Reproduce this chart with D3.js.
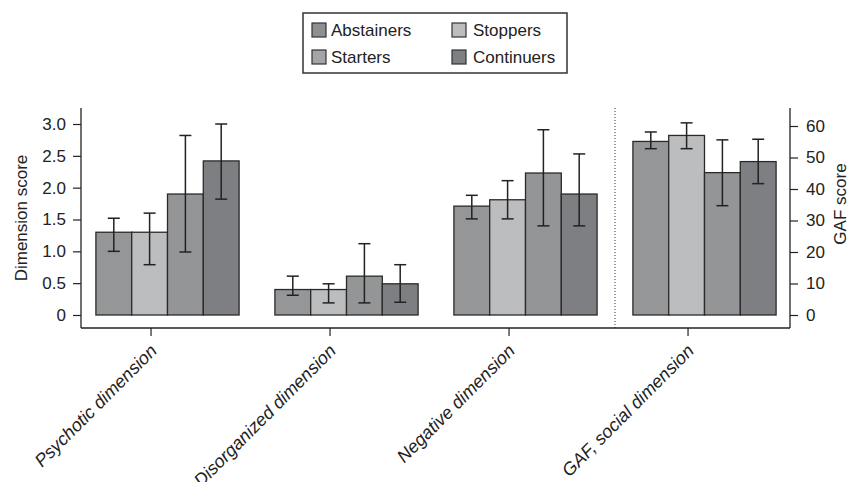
<!DOCTYPE html>
<html><head><meta charset="utf-8">
<script src="https://cdn.jsdelivr.net/npm/d3@7"></script>
<style>body{margin:0;background:#fff}svg{display:block}text{font-family:"Liberation Sans",Arial,sans-serif;fill:#222}</style>
</head><body><svg id="c" width="849" height="482"></svg>
<script>
const categories = ["Psychotic dimension","Disorganized dimension","Negative dimension","GAF, social dimension"];
const groups = ["Abstainers","Stoppers","Starters","Continuers"];
const colors = ["#959698","#bcbdbf","#949597","#7e7f82"];
// values per category, in group order
const means = [[1.3,1.3,1.9,2.42],[0.4,0.4,0.61,0.49],[1.71,1.81,2.23,1.9],[55.1,57.0,45.2,48.7]];
const errLow = [[1.0,0.79,0.99,1.82],[0.31,0.19,0.19,0.2],[1.51,1.51,1.4,1.4],[52.8,52.8,34.7,41.7]];
const errHigh = [[1.52,1.6,2.82,3.0],[0.61,0.49,1.12,0.79],[1.88,2.11,2.91,2.53],[58.1,61.0,55.6,55.8]];
const leftTicks = [0,0.5,1.0,1.5,2.0,2.5,3.0];
const rightTicks = [0,10,20,30,40,50,60];

const svg = d3.select("#c");
const axL = 81, axR = 790, axB = 328, axT = 108;
const yL = d3.scaleLinear().domain([0,3]).range([315,124]);
const yR = d3.scaleLinear().domain([0,60]).range([315,126]);
const x = d3.scaleBand().domain(categories).range([78,794]).paddingInner(0.2).paddingOuter(0.1);
const xs = d3.scaleBand().domain(groups).range([0,x.bandwidth()]);

// bars
categories.forEach((c,ci)=>{
  const y = ci===3 ? yR : yL;
  const g = svg.append("g").attr("transform",`translate(${x(c)},0)`);
  groups.forEach((gr,gi)=>{
    g.append("rect").attr("x",xs(gr)).attr("y",y(means[ci][gi]))
      .attr("width",xs.bandwidth()).attr("height",y(0)-y(means[ci][gi]))
      .attr("fill",colors[gi]).attr("stroke","#2a2a2a").attr("stroke-width",1.3);
  });
  groups.forEach((gr,gi)=>{
    const cx = xs(gr)+xs.bandwidth()/2;
    const lo = y(errLow[ci][gi]), hi = y(errHigh[ci][gi]);
    g.append("line").attr("x1",cx).attr("x2",cx).attr("y1",lo).attr("y2",hi).attr("stroke","#222").attr("stroke-width",1.5);
    [lo,hi].forEach(v=>g.append("line").attr("x1",cx-6).attr("x2",cx+6).attr("y1",v).attr("y2",v).attr("stroke","#222").attr("stroke-width",1.5));
  });
});

// dotted separator
const sepX = (x(categories[2])+x.bandwidth()+x(categories[3]))/2;
svg.append("line").attr("x1",sepX).attr("x2",sepX).attr("y1",axT).attr("y2",axB)
  .attr("stroke","#333").attr("stroke-width",1).attr("stroke-dasharray","1,2");

// left axis
const gL = svg.append("g").attr("transform",`translate(${axL},0)`)
  .call(d3.axisLeft(yL).tickValues(leftTicks).tickSize(8).tickPadding(7).tickFormat(v=>v===0?"0":d3.format(".1f")(v)));
gL.select(".domain").remove();
gL.append("line").attr("x1",0).attr("x2",0).attr("y1",axT).attr("y2",axB).attr("stroke","#222").attr("stroke-width",1.3);
gL.selectAll(".tick line").attr("stroke","#222").attr("stroke-width",1.2);
gL.selectAll(".tick text").attr("font-size",17).attr("fill","#222").attr("font-family","Liberation Sans, Arial, sans-serif");

// right axis
const gR = svg.append("g").attr("transform",`translate(${axR},0)`)
  .call(d3.axisRight(yR).tickValues(rightTicks).tickSize(8).tickPadding(8));
gR.select(".domain").remove();
gR.append("line").attr("x1",0).attr("x2",0).attr("y1",axT).attr("y2",axB).attr("stroke","#222").attr("stroke-width",1.3);
gR.selectAll(".tick line").attr("stroke","#222").attr("stroke-width",1.2);
gR.selectAll(".tick text").attr("font-size",17).attr("fill","#222").attr("font-family","Liberation Sans, Arial, sans-serif");

// bottom axis
svg.append("line").attr("x1",axL).attr("x2",axR).attr("y1",axB).attr("y2",axB).attr("stroke","#222").attr("stroke-width",1.3);
categories.forEach(c=>{
  const tx = x(c)+x.bandwidth()*0.385;
  svg.append("line").attr("x1",tx).attr("x2",tx).attr("y1",axB).attr("y2",axB+8).attr("stroke","#222").attr("stroke-width",1.2);
  svg.append("text").attr("transform",`translate(${tx+7},${axB+24}) rotate(-45)`)
    .attr("text-anchor","end").attr("font-size",18).attr("font-style","italic").text(c);
});

// axis titles
svg.append("text").attr("transform",`translate(27,218) rotate(-90)`).attr("text-anchor","middle").attr("font-size",17).text("Dimension score");
svg.append("text").attr("transform",`translate(846,204) rotate(-90)`).attr("text-anchor","middle").attr("font-size",17).text("GAF score");

// legend
const lg = svg.append("g");
lg.append("rect").attr("x",303).attr("y",13).attr("width",264).attr("height",60).attr("fill","#fff").attr("stroke","#333").attr("stroke-width",1.5);
const lpos = [[312,23],[452,23],[312,50],[452,50]];
const lorder = [0,1,2,3];
const legendColors = ["#8e8f91","#bcbdbf","#a4a5a7","#7e7f82"];
lorder.forEach((gi,k)=>{
  const [lx,ly] = lpos[k];
  lg.append("rect").attr("x",lx).attr("y",ly).attr("width",14).attr("height",14).attr("fill",legendColors[gi]).attr("stroke","#333").attr("stroke-width",1.2);
  lg.append("text").attr("x",lx+(k%2===0?19:21)).attr("y",ly+13).attr("font-size",17).text(groups[gi]);
});
</script></body></html>
